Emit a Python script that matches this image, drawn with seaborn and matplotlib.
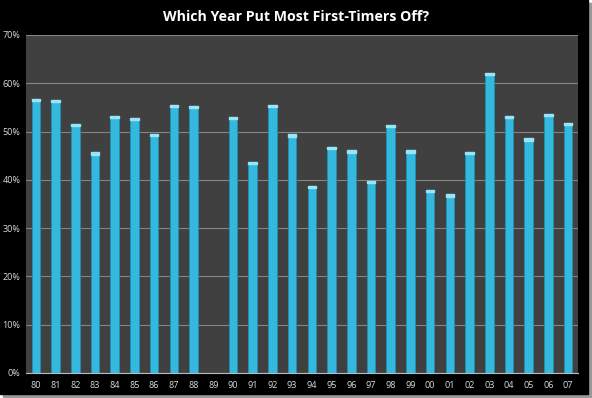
import numpy as np
import pandas as pd
import matplotlib.pyplot as plt
import matplotlib.patches as mpatches
from matplotlib.ticker import FuncFormatter
import seaborn as sns

years = ['80', '81', '82', '83', '84', '85', '86', '87', '88', '89',
         '90', '91', '92', '93', '94', '95', '96', '97', '98', '99',
         '00', '01', '02', '03', '04', '05', '06', '07']
share = [56.7, 56.5, 51.6, 45.7, 53.3, 52.8, 49.5, 55.5, 55.3, np.nan,
         53.0, 43.7, 55.6, 49.4, 38.8, 46.9, 46.1, 39.8, 51.3, 46.1,
         37.9, 37.0, 45.8, 62.1, 53.3, 48.6, 53.6, 51.8]

df = pd.DataFrame({'Year': years, 'Share': share})

sns.set_style('dark')
plt.rcParams['font.family'] = ['Open Sans', 'DejaVu Sans']

fig = plt.figure(figsize=(5.92, 3.98), dpi=100, facecolor='white')
# black chart frame with a thin grey shadow like the original
fig.patches.append(mpatches.Rectangle((3 / 592, 0), 589 / 592, 395 / 398,
                                      transform=fig.transFigure, color='#9a9a9a', zorder=-2))
fig.patches.append(mpatches.Rectangle((0, 4 / 398), 588 / 592, 394 / 398,
                                      transform=fig.transFigure, color='black', zorder=-1))

ax = fig.add_axes([26 / 592, 25 / 398, 552 / 592, 338 / 398])
ax.set_facecolor('#404040')

sns.barplot(data=df, x='Year', y='Share', order=years, color='#35b8de',
            width=0.43, saturation=1, edgecolor='#1f8fb2', linewidth=0.6, ax=ax)
# light cap on top of each bar
for bar in ax.patches:
    h = bar.get_height()
    if np.isnan(h):
        continue
    ax.add_patch(mpatches.Rectangle((bar.get_x(), h - 0.45), bar.get_width(), 0.45,
                                    color='#96e6f8', zorder=3))

ax.set_ylim(0, 70)
ax.set_xlim(-0.5, len(years) - 0.5)
ax.set_yticks(range(0, 71, 10))
ax.yaxis.set_major_formatter(FuncFormatter(lambda v, p: f'{int(v)}%'))
ax.grid(axis='y', color='#858585', linewidth=0.8)
ax.grid(axis='x', visible=False)
ax.set_axisbelow(True)

ax.set_xlabel('')
ax.set_ylabel('')
ax.tick_params(axis='both', colors='#dcdcdc', labelsize=6.5, length=0, pad=6)
ax.tick_params(axis='y', pad=4)
ax.set_xticks(np.arange(len(years)) + 0.5, minor=True)
ax.tick_params(axis='x', which='minor', length=3, color='#bbbbbb', direction='out')

for side in ['top', 'right', 'left']:
    ax.spines[side].set_visible(False)
ax.spines['bottom'].set_visible(True)
ax.spines['bottom'].set_color('#bbbbbb')
ax.spines['bottom'].set_linewidth(0.8)

fig.text(0.5, 0.958, 'Which Year Put Most First-Timers Off?', ha='center', va='center',
         color='white', fontsize=10.2, fontweight='bold')

fig.savefig('out.png', dpi=100, facecolor=fig.get_facecolor())
